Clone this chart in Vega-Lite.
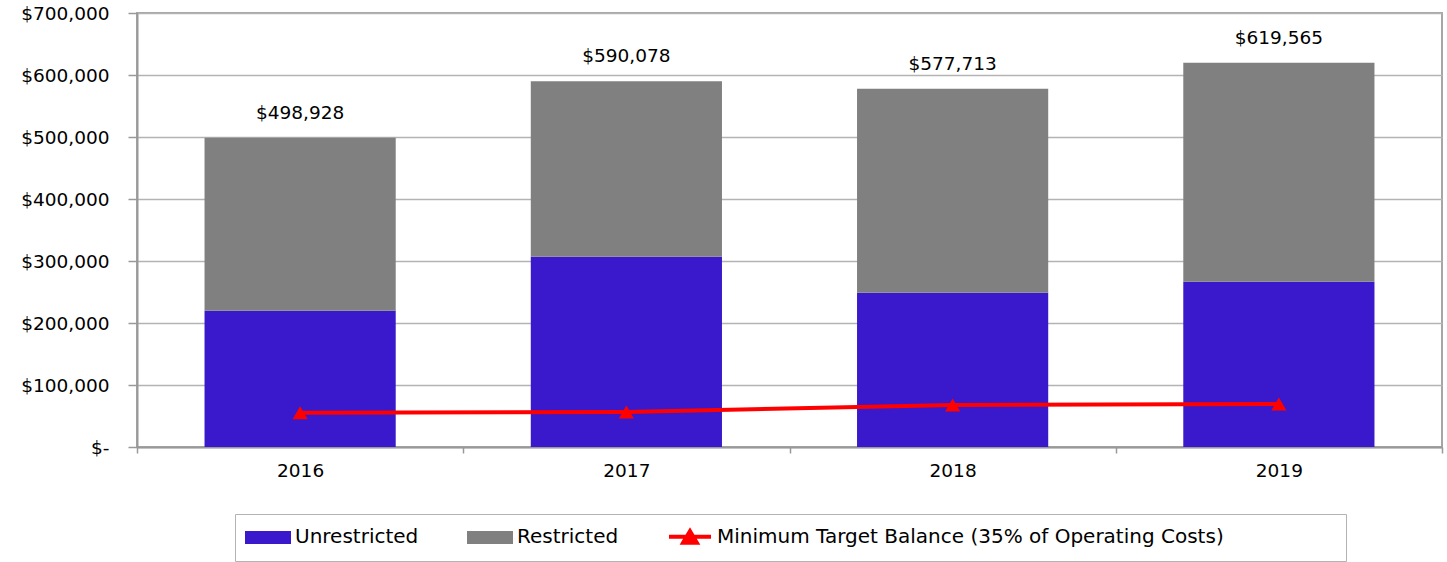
{
  "$schema": "https://vega.github.io/schema/vega-lite/v6.json",
  "autosize": {"type": "none"},
  "padding": {"left": 137, "top": 13, "right": 5, "bottom": 115},
  "width": 1305,
  "height": 434,
  "background": "white",
  "config": {
    "font": "DejaVu Sans",
    "view": {"stroke": "#a6a6a6", "strokeWidth": 2},
    "axis": {"labelFont": "DejaVu Sans", "labelColor": "#000000", "labelFontSize": 18.5}
  },
  "datasets": {
    "bars": [
      {"year": "2016", "category": "Unrestricted", "amount": 219800},
      {"year": "2016", "category": "Restricted", "amount": 279128},
      {"year": "2017", "category": "Unrestricted", "amount": 306900},
      {"year": "2017", "category": "Restricted", "amount": 283178},
      {"year": "2018", "category": "Unrestricted", "amount": 248900},
      {"year": "2018", "category": "Restricted", "amount": 328813},
      {"year": "2019", "category": "Unrestricted", "amount": 266600},
      {"year": "2019", "category": "Restricted", "amount": 352965}
    ],
    "totals": [
      {"year": "2016", "total": 498928},
      {"year": "2017", "total": 590078},
      {"year": "2018", "total": 577713},
      {"year": "2019", "total": 619565}
    ],
    "target": [
      {"year": "2016", "series": "Minimum Target Balance (35% of Operating Costs)", "balance": 55300},
      {"year": "2017", "series": "Minimum Target Balance (35% of Operating Costs)", "balance": 56400},
      {"year": "2018", "series": "Minimum Target Balance (35% of Operating Costs)", "balance": 67700},
      {"year": "2019", "series": "Minimum Target Balance (35% of Operating Costs)", "balance": 69300}
    ]
  },
  "encoding": {
    "x": {
      "field": "year",
      "type": "ordinal",
      "title": null,
      "scale": {"paddingInner": 0, "paddingOuter": 0},
      "axis": {
        "labelAngle": 0,
        "tickBand": "extent",
        "tickSize": 6,
        "tickColor": "#999999",
        "tickWidth": 1.5,
        "domainColor": "#999999",
        "domainWidth": 2,
        "labelPadding": 8
      }
    }
  },
  "layer": [
    {
      "data": {"name": "bars"},
      "mark": {"type": "bar", "width": {"band": 0.586}},
      "encoding": {
        "y": {
          "field": "amount",
          "type": "quantitative",
          "stack": "zero",
          "title": null,
          "scale": {"domain": [0, 700000], "nice": false},
          "axis": {
            "values": [0, 100000, 200000, 300000, 400000, 500000, 600000, 700000],
            "labelExpr": "datum.value === 0 ? '$-' : '$' + format(datum.value, ',')",
            "grid": true,
            "gridColor": "#b3b3b3",
            "gridWidth": 1.5,
            "tickSize": 9,
            "tickColor": "#999999",
            "tickWidth": 1.5,
            "domainColor": "#999999",
            "domainWidth": 2,
            "labelPadding": 19
          }
        },
        "color": {
          "field": "category",
          "type": "nominal",
          "scale": {
            "domain": ["Unrestricted", "Restricted", "Minimum Target Balance (35% of Operating Costs)"],
            "range": ["#3a18cc", "#808080", "#ff0000"]
          },
          "legend": {
            "title": " ",
            "titleOrient": "right",
            "titlePadding": 112,
            "orient": "none",
            "legendX": 98,
            "legendY": 501,
            "direction": "horizontal",
            "columns": 3,
            "columnPadding": 42,
            "padding": 10,
            "strokeColor": "#b3b3b3",
            "fillColor": "white",
            "labelFont": "DejaVu Sans",
            "labelFontSize": 20,
            "labelColor": "#000000",
            "labelLimit": 700,
            "labelOffset": 25,
            "symbolSize": 441,
            "symbolStrokeWidth": 4,
            "encode": {
              "symbols": {
                "update": {
                  "shape": {"signal": "datum.value === 'Minimum Target Balance (35% of Operating Costs)' ? 'M-1,0H3M0.35,0.55L1,-0.55L1.65,0.55Z' : 'M-1,-0.43H3V0.43H-1Z'"},
                  "fill": {"signal": "datum.value === 'Unrestricted' ? '#3a18cc' : datum.value === 'Restricted' ? '#808080' : '#ff0000'"},
                  "stroke": {"signal": "datum.value === 'Minimum Target Balance (35% of Operating Costs)' ? '#ff0000' : 'transparent'"},
                  "strokeWidth": {"value": 4},
                  "opacity": {"value": 1}
                }
              }
            }
          }
        },
        "order": {"field": "category", "sort": "descending"}
      }
    },
    {
      "data": {"name": "totals"},
      "mark": {"type": "text", "baseline": "middle", "dy": -25, "fontSize": 18.5, "font": "DejaVu Sans", "color": "#000000"},
      "encoding": {
        "y": {"field": "total", "type": "quantitative"},
        "text": {"field": "total", "type": "quantitative", "format": "$,"}
      }
    },
    {
      "data": {"name": "target"},
      "mark": {"type": "line", "color": "#ff0000", "strokeWidth": 4, "point": {"shape": "triangle-up", "size": 230, "filled": true, "color": "#ff0000", "opacity": 1}},
      "encoding": {
        "y": {"field": "balance", "type": "quantitative"},
        "color": {"field": "series", "type": "nominal", "legend": null}
      }
    }
  ]
}
